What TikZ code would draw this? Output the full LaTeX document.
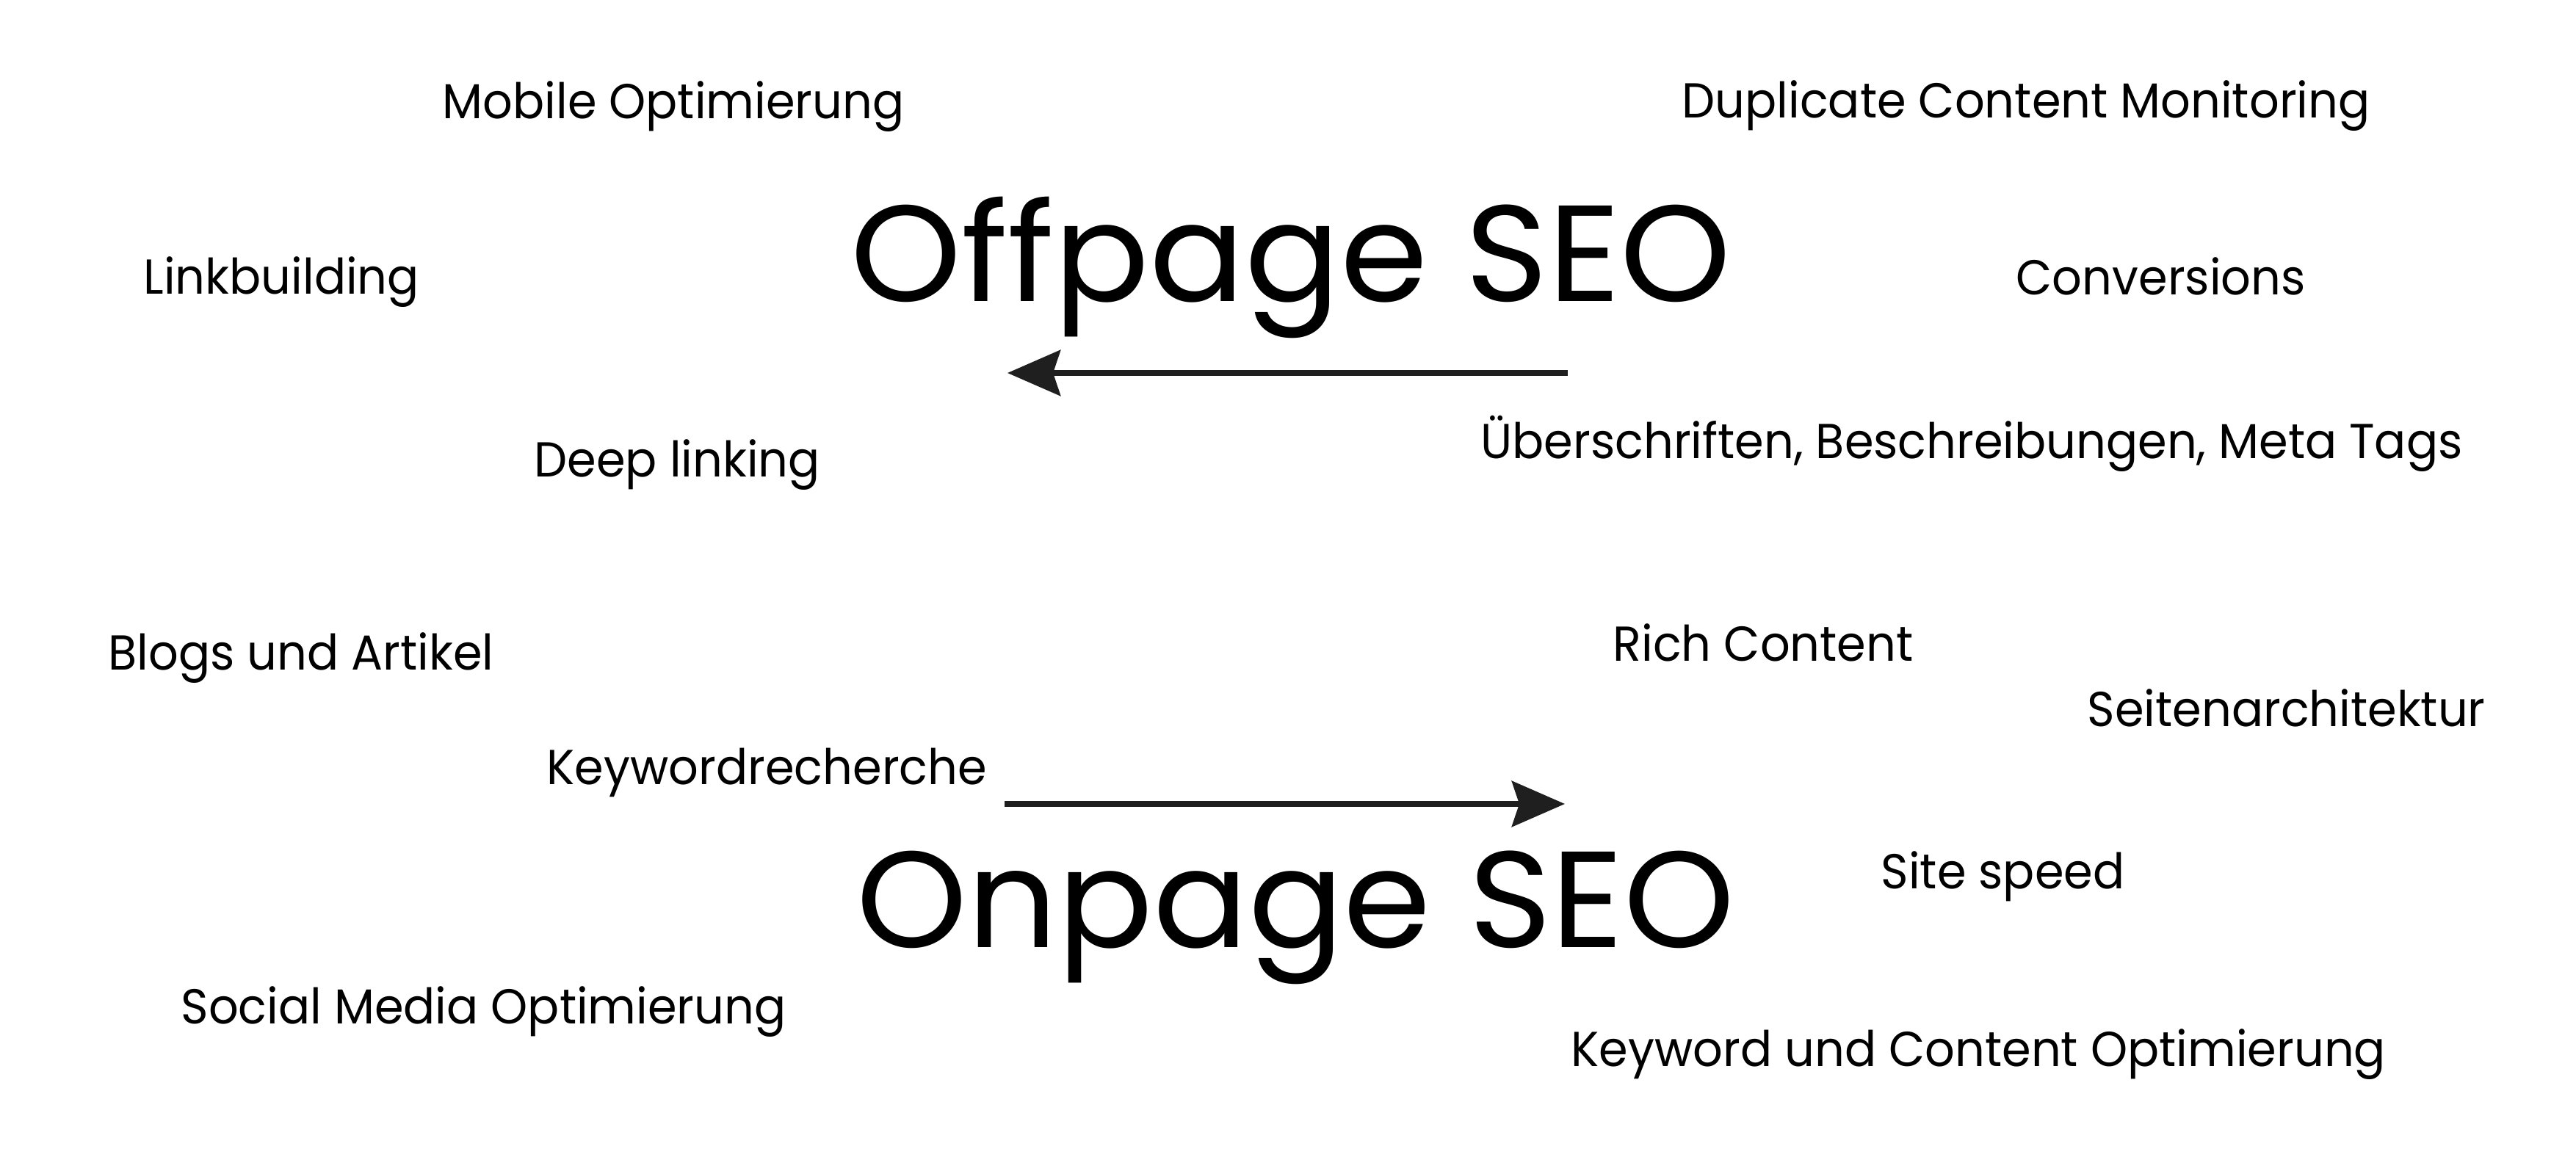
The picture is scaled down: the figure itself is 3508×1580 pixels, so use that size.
\documentclass[tikz,border=0pt]{standalone}
\usepackage{fontspec}
\setmainfont{Poppins}
\newfontfamily\kwfont[FakeStretch=0.955]{Poppins}
\newfontfamily\titlefont[FakeStretch=1.03]{Poppins}
\usetikzlibrary{arrows.meta}

\begin{document}
\begin{tikzpicture}[
  x=0.01cm, y=-0.01cm,
  every node/.style={inner sep=0pt, anchor=base west},
  % small keywords and the two big headings
  kw/.style={font=\kwfont\fontsize{19pt}{23pt}\selectfont},
  title/.style={font=\titlefont\fontsize{53pt}{60pt}\selectfont},
  arrow/.style={draw=black!88, line width=0.08cm,
    -{Stealth[length=0.72cm, width=0.62cm, inset=0.1cm]}}]

  \useasboundingbox (0,0) rectangle (3508,1580);

  % headings
  \node[title] (off) at (1158,411)  {Offpage SEO};
  \node[title] (on)  at (1166,1291) {Onpage SEO};

  % keywords, upper half
  \node[kw] (mobile)  at (602,162)  {Mobile Optimierung};
  \node[kw] (dupl)    at (2290,161) {Duplicate Content Monitoring};
  \node[kw] (link)    at (195,401)  {Linkbuilding};
  \node[kw] (conv)    at (2745,402) {Conversions};
  \node[kw] (deep)    at (727,650)  {Deep linking};
  \node[kw] (heads)   at (2016,625) {Überschriften, Beschreibungen, Meta Tags};

  % keywords, lower half
  \node[kw] (blogs)   at (147,913)  {Blogs und Artikel};
  \node[kw] (rich)    at (2196,901) {Rich Content};
  \node[kw] (arch)    at (2842,990) {Seitenarchitektur};
  \node[kw] (kwr)     at (744,1069) {Keywordrecherche};
  \node[kw] (speed)   at (2561,1211) {Site speed};
  \node[kw] (social)  at (246,1395) {Social Media Optimierung};
  \node[kw] (kwcont)  at (2139,1453) {Keyword und Content Optimierung};

  % arrow ends
  \coordinate (a1) at (2135,508);
  \coordinate (a2) at (1372,508);
  \coordinate (b1) at (1368,1095);
  \coordinate (b2) at (2131,1095);

  \draw[arrow] (a1) -- (a2);
  \draw[arrow] (b1) -- (b2);
\end{tikzpicture}
\end{document}
